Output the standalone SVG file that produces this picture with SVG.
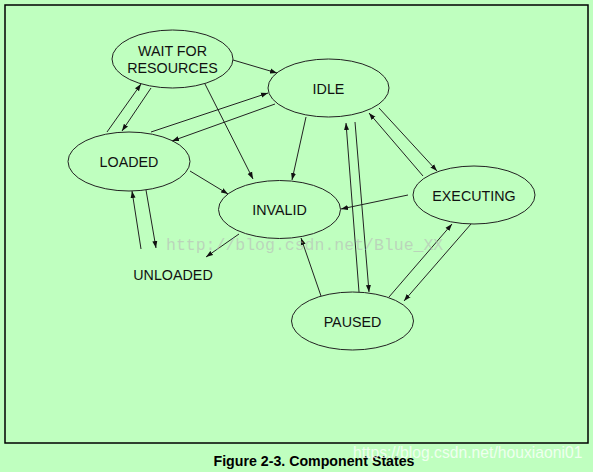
<svg xmlns="http://www.w3.org/2000/svg" width="593" height="472" viewBox="0 0 593 472">
<style>
.bg{fill:#bfffbf}
.frame{fill:none;stroke:#000;stroke-width:1.5}
.node ellipse{fill:none;stroke:#222;stroke-width:1}
.lbl{font-family:"Liberation Sans",Arial,sans-serif;font-size:14.3px;fill:#111;text-anchor:middle}
.edge line{stroke:#222;stroke-width:1;marker-end:url(#ah)}
.title{font-family:"Liberation Sans",Arial,sans-serif;font-size:14.2px;font-weight:bold;fill:#000;text-anchor:middle}
.wm1{font-family:"Liberation Mono","Courier New",monospace;font-size:16.5px;fill:#b8b8b8;fill-opacity:0.6}
.wm2{font-family:"Liberation Sans",Arial,sans-serif;font-size:15.7px;fill:#ffffff;fill-opacity:0.75}
</style>
<defs>
<marker id="ah" markerUnits="userSpaceOnUse" markerWidth="8" markerHeight="6" refX="7" refY="3" orient="auto">
<path d="M0,0.5 L7,3 L0,5.5 Z" fill="#111"/>
</marker>
</defs>
<rect class="bg" x="0" y="0" width="593" height="472"/>
<rect class="frame" x="5" y="5" width="583" height="438"/>
<g id="connectors" class="edge">
<line x1="233" y1="60" x2="277" y2="73"/>
<line x1="107" y1="132" x2="141" y2="84"/>
<line x1="151" y1="88" x2="122" y2="131"/>
<line x1="151" y1="132" x2="268" y2="93"/>
<line x1="275" y1="104" x2="172" y2="141"/>
<line x1="205" y1="84" x2="253" y2="179"/>
<line x1="306" y1="117" x2="292" y2="180"/>
<line x1="190" y1="171" x2="228" y2="194"/>
<line x1="141" y1="249" x2="132" y2="191"/>
<line x1="146" y1="190" x2="156" y2="248"/>
<line x1="239" y1="234" x2="206" y2="257"/>
<line x1="379" y1="108" x2="437" y2="171"/>
<line x1="423" y1="176" x2="369" y2="113"/>
<line x1="359" y1="292" x2="346" y2="123"/>
<line x1="355" y1="122" x2="369" y2="292"/>
<line x1="408" y1="195" x2="341" y2="209"/>
<line x1="321" y1="296" x2="301" y2="238"/>
<line x1="389" y1="297" x2="452" y2="224"/>
<line x1="471" y1="224" x2="404" y2="301"/>
</g>
<g id="wait" class="node">
<ellipse cx="172.5" cy="59" rx="60.5" ry="29"/>
<text class="lbl" x="172.5" y="56">WAIT FOR</text>
<text class="lbl" x="172.5" y="72.5">RESOURCES</text>
</g>
<g id="idle" class="node">
<ellipse cx="328.5" cy="88" rx="60.5" ry="29"/>
<text class="lbl" x="328.5" y="94">IDLE</text>
</g>
<g id="loaded" class="node">
<ellipse cx="129" cy="161.5" rx="61" ry="29.5"/>
<text class="lbl" x="129" y="166.5">LOADED</text>
</g>
<g id="invalid" class="node">
<ellipse cx="279.5" cy="209.5" rx="61" ry="29"/>
<text class="lbl" x="279.5" y="215">INVALID</text>
</g>
<g id="executing" class="node">
<ellipse cx="474" cy="195" rx="61" ry="29"/>
<text class="lbl" x="474" y="201">EXECUTING</text>
</g>
<g id="paused" class="node">
<ellipse cx="352.5" cy="321" rx="61" ry="29"/>
<text class="lbl" x="352.5" y="326.5">PAUSED</text>
</g>
<g id="unloaded" class="node">
<text class="lbl" x="173" y="279.5">UNLOADED</text>
</g>
<text class="wm1" x="166" y="250">http://blog.csdn.net/Blue_XX</text>
<text class="title" x="314" y="466">Figure 2-3. Component States</text>
<text class="wm2" x="353" y="458">https://blog.csdn.net/houxiaoni01</text>
</svg>
